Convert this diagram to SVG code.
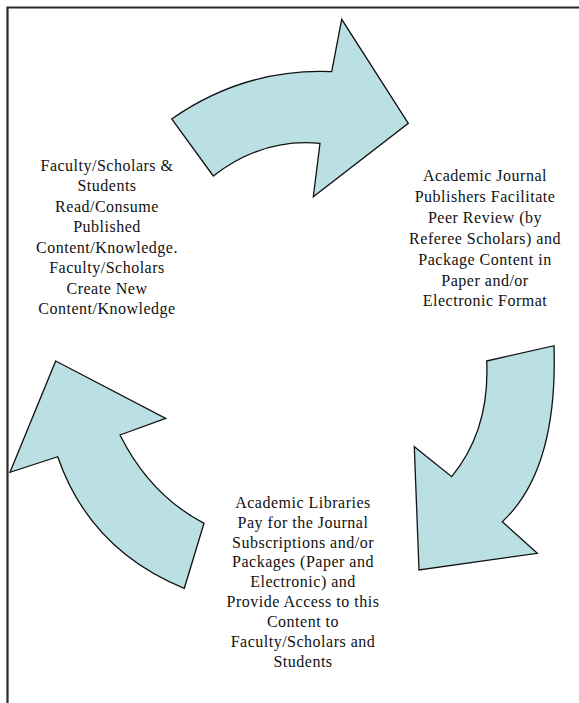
<svg xmlns="http://www.w3.org/2000/svg" width="579" height="703" viewBox="0 0 579 703">
<style>
.arrow{fill:#BAE0E3;stroke:#111;stroke-width:1.3;stroke-linejoin:miter}
.lbl{font-family:"Liberation Serif","Times New Roman",serif;font-size:16px;letter-spacing:0.5px;fill:#111;text-anchor:middle}
.frame{stroke:#2a2a2a;stroke-width:2.2;fill:none}
</style>
<rect width="579" height="703" fill="#fff"/>
<path class="frame" d="M7.5,703 V7.5 H579"/>
<g id="connectors">
<path id="arrow-top" class="arrow" d="M171.7,119 Q245,68 331.7,71.7 L341.7,19.3 L408.3,123.3 L313.3,196.7 L320,143.3 Q262,138 213.3,176 Z"/>
<path id="arrow-right" class="arrow" d="M486.7,361 L554,345.7 Q558,470 502.3,521.7 L537.3,553.3 L419,570 L414.3,446.7 L451.7,476.7 Q490,430 486.7,361 Z"/>
<path id="arrow-left" class="arrow" d="M55.7,361 L165.7,418.3 L120,435 Q150,495 204,523.3 L184.3,588.3 Q90,550 57.7,456.7 L10,472.3 Z"/>
</g>
<g id="node-faculty">
<text class="lbl" x="107" y="171">Faculty/Scholars &amp;</text>
<text class="lbl" x="107" y="191.4">Students</text>
<text class="lbl" x="107" y="211.9">Read/Consume</text>
<text class="lbl" x="107" y="232.3">Published</text>
<text class="lbl" x="107" y="252.7">Content/Knowledge.</text>
<text class="lbl" x="107" y="273.1">Faculty/Scholars</text>
<text class="lbl" x="107" y="293.6">Create New</text>
<text class="lbl" x="107" y="314">Content/Knowledge</text>
</g>
<g id="node-publishers">
<text class="lbl" x="485" y="181">Academic Journal</text>
<text class="lbl" x="485" y="201.9">Publishers Facilitate</text>
<text class="lbl" x="485" y="222.8">Peer Review (by</text>
<text class="lbl" x="485" y="243.7">Referee Scholars) and</text>
<text class="lbl" x="485" y="264.6">Package Content in</text>
<text class="lbl" x="485" y="285.5">Paper and/or</text>
<text class="lbl" x="485" y="306.4">Electronic Format</text>
</g>
<g id="node-libraries">
<text class="lbl" x="303" y="507.8">Academic Libraries</text>
<text class="lbl" x="303" y="527.7">Pay for the Journal</text>
<text class="lbl" x="303" y="547.5">Subscriptions and/or</text>
<text class="lbl" x="303" y="567.4">Packages (Paper and</text>
<text class="lbl" x="303" y="587.2">Electronic) and</text>
<text class="lbl" x="303" y="607.1">Provide Access to this</text>
<text class="lbl" x="303" y="627">Content to</text>
<text class="lbl" x="303" y="646.8">Faculty/Scholars and</text>
<text class="lbl" x="303" y="666.7">Students</text>
</g>
</svg>
